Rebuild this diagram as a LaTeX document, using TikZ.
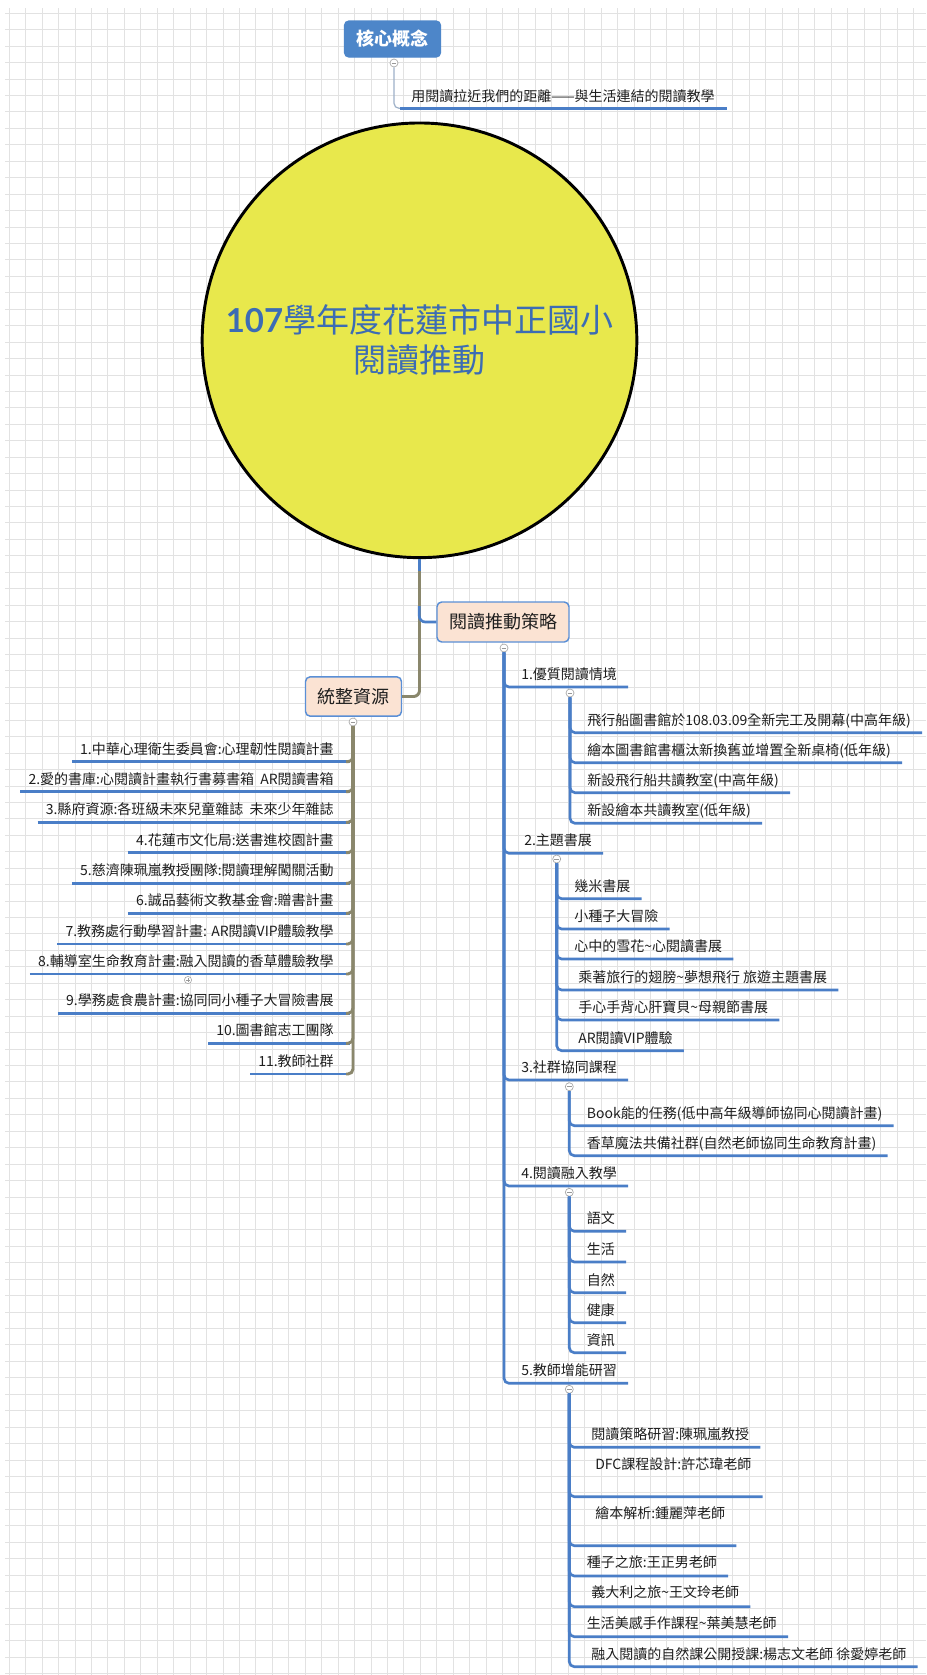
\documentclass[tikz,border=0pt]{standalone}
\usepackage{fontspec}
\setmainfont{Noto Sans CJK TC}
\newfontfamily\titlelat{Lato}
\usetikzlibrary{calc}
\definecolor{bluc}{HTML}{4A7EC7}
\definecolor{olvc}{HTML}{8A876C}
\definecolor{gridc}{HTML}{E2E2E2}
\definecolor{boxf}{HTML}{FBE3D3}
\definecolor{boxb}{HTML}{5A8FD6}
\definecolor{corec}{HTML}{4D86C9}
\definecolor{titlec}{HTML}{3C6CB4}
\definecolor{sun}{HTML}{E8E84C}
\definecolor{textc}{HTML}{1E1E1E}
\definecolor{thinc}{HTML}{9DB0C8}
\tikzset{
 blueline/.style={draw=bluc, line width=2pt},
 oliveline/.style={draw=olvc, line width=2.2pt},
 leaf/.style={inner sep=0pt, text=textc, font=\fontsize{10.5}{12}\selectfont},
 boxnode/.style={draw=boxb, fill=boxf, line width=1.1pt, rounded corners=3.5pt, inner xsep=9pt, inner ysep=0pt, minimum height=29.5pt, text=textc, font=\fontsize{13.5}{16}\selectfont},
 coll/.style={circle, draw=gray!70, fill=white, line width=0.5pt, minimum size=6pt, inner sep=0pt,
   path picture={\draw[gray!80, line width=0.5pt] ([xshift=-1.7pt]path picture bounding box.center) -- ([xshift=1.7pt]path picture bounding box.center);}},
 expd/.style={circle, draw=gray!70, fill=white, line width=0.45pt, minimum size=5.4pt, inner sep=0pt,
   path picture={\draw[gray!80, line width=0.45pt] ([xshift=-1.5pt]path picture bounding box.center) -- ([xshift=1.5pt]path picture bounding box.center) ([yshift=-1.5pt]path picture bounding box.center) -- ([yshift=1.5pt]path picture bounding box.center);}},
}
\newcommand\tld{\textasciitilde}
% right-hand leaf: name, branch node, x, text centre y, underline y, text
\newcommand\RLeaf[6]{%
 \node[leaf, anchor=base west] (#1) at (#3,#4+5.2) {#6};
 \pgfmathsetmacro\dyy{#5-#4-5.2}%
 \draw[blueline, rounded corners=3.75pt] (#2.south) |- ($(#1.base east)+(11,\dyy)$);
}
% left-hand leaf: name, text centre y, underline y, text
\newcommand\LLeaf[4]{%
 \node[leaf, anchor=base east] (#1) at (334,#2+5.2) {#4};
 \pgfmathsetmacro\dyy{#3-#2-5.2}%
 \draw[blueline] ($(#1.base west)+(-8,\dyy)$) -- ($(#1.base east)+(16,\dyy)$);
 \draw[oliveline, rounded corners=3.75pt] (rc.south) |- ($(#1.base east)+(12,\dyy)$);
}
\begin{document}
\begin{tikzpicture}[x=0.75pt,y=-0.75pt]
\useasboundingbox (0,0) rectangle (926,1675);
\fill[white] (0,0) rectangle (926,1675);
% grid
\foreach \i in {0,...,55} \draw[gridc, line width=0.7pt] ({9.3+\i*16.44},8) -- ({9.3+\i*16.44},1675);
\foreach \j in {0,...,101} \draw[gridc, line width=0.7pt] (5,{13.3+\j*16.44}) -- (926,{13.3+\j*16.44});

% central circle
\node[circle, draw=black, line width=2.2pt, fill=sun, minimum size=326pt, inner sep=0pt, text=titlec, align=center, font=\fontsize{24.75}{30}\selectfont] (circ) at (419.5,340.3) {{\titlelat\bfseries 107}學年度花蓮市中正國小\\閱讀推動};

% core concept
\node[boxnode, draw=corec, fill=corec, text=white, minimum height=27pt, font=\fontsize{13.5}{16}\selectfont\bfseries] (core) at (392.5,39) {核心概念};
\node[coll] (c0) at (394,63) {};
\node[leaf, anchor=base west] (kc) at (411,101.9) {用閱讀拉近我們的距離——與生活連結的閱讀教學};
\draw[thinc, line width=0.9pt, rounded corners=3.75pt] (c0.south) |- ($(kc.base west)+(-10,6.4)$);
\draw[blueline] ($(kc.base west)+(-11,6.4)$) -- ($(kc.base east)+(12,6.4)$);

% main boxes
\node[boxnode, minimum height=30pt] (strat) at (503,622) {閱讀推動策略};
\node[boxnode] (res) at (353.5,696.5) {統整資源};
\coordinate (jb) at (419.3,606);
\draw[oliveline, rounded corners=4.5pt] (circ.south) |- (res.east);
\draw[blueline] (circ.south) -- ($(circ.south)+(0,12)$);
\draw[blueline, rounded corners=4.5pt] (jb) |- (strat.west);

% collapse markers
\node[coll] (sc) at (504,648) {};
\node[coll] (rc) at (353,722) {};
\node[coll] (g1) at (570,693) {};
\node[coll] (g2) at (556.7,859) {};
\node[coll] (g3) at (569.3,1086.7) {};
\node[coll] (g4) at (569.3,1192.3) {};
\node[coll] (g5) at (569.3,1389.3) {};
\node[expd] (pl) at (188,980) {};

% left: resources
\LLeaf{l1}{749.0}{761.7}{1.中華心理衛生委員會:心理韌性閱讀計畫}
\LLeaf{l2}{779.0}{791.7}{2.愛的書庫:心閱讀計畫執行書募書箱\ \ AR閱讀書箱}
\LLeaf{l3}{809.6}{822.3}{3.縣府資源:各班級未來兒童雜誌\ \ 未來少年雜誌}
\LLeaf{l4}{840.0}{852.7}{4.花蓮市文化局:送書進校園計畫}
\LLeaf{l5}{870.6}{883.3}{5.慈濟陳珮嵐教授團隊:閱讀理解闖關活動}
\LLeaf{l6}{900.6}{913.3}{6.誠品藝術文教基金會:贈書計畫}
\LLeaf{l7}{931.3}{944}{7.教務處行動學習計畫: AR閱讀VIP體驗教學}
\LLeaf{l8}{961.3}{974}{8.輔導室生命教育計畫:融入閱讀的香草體驗教學}
\LLeaf{l9}{1000.6}{1013.3}{9.學務處食農計畫:協同同小種子大冒險書展}
\LLeaf{l10}{1030.6}{1043.3}{10.圖書館志工團隊}
\LLeaf{l11}{1061.3}{1074}{11.教師社群}

% right: strategy headings
\RLeaf{s5}{sc}{521}{1370.6}{1383.3}{5.教師增能研習}
\RLeaf{s4}{sc}{521}{1173.3}{1186}{4.閱讀融入教學}
\RLeaf{s3}{sc}{521}{1067.3}{1080}{3.社群協同課程}
\RLeaf{s2}{sc}{524}{840.6}{853.3}{2.主題書展}
\RLeaf{s1}{sc}{521}{674.3}{687}{1.優質閱讀情境}

% group 1
\RLeaf{a4}{g1}{587}{810.6}{823.3}{新設繪本共讀教室(低年級)}
\RLeaf{a3}{g1}{587}{780.0}{792.7}{新設飛行船共讀教室(中高年級)}
\RLeaf{a2}{g1}{587}{750.0}{762.7}{繪本圖書館書櫃汰新換舊並增置全新桌椅(低年級)}
\RLeaf{a1}{g1}{587}{720.0}{732.7}{飛行船圖書館於108.03.09全新完工及開幕(中高年級)}

% group 2
\RLeaf{b6}{g2}{578}{1038.0}{1050.7}{AR閱讀VIP體驗}
\RLeaf{b5}{g2}{578}{1007.3}{1020}{手心手背心肝寶貝\tld 母親節書展}
\RLeaf{b4}{g2}{578}{977.3}{990}{乘著旅行的翅膀\tld 夢想飛行 旅遊主題書展}
\RLeaf{b3}{g2}{574}{946.3}{959}{心中的雪花\tld 心閱讀書展}
\RLeaf{b2}{g2}{574}{916.3}{929}{小種子大冒險}
\RLeaf{b1}{g2}{574}{886.0}{898.7}{幾米書展}

% group 3
\RLeaf{c2}{g3}{586.7}{1143.0}{1155.7}{香草魔法共備社群(自然老師協同生命教育計畫)}
\RLeaf{c1}{g3}{586.7}{1113.0}{1125.7}{Book能的任務(低中高年級導師協同心閱讀計畫)}

% group 4
\RLeaf{d5}{g4}{586.7}{1340.0}{1352.7}{資訊}
\RLeaf{d4}{g4}{586.7}{1310.0}{1322.7}{健康}
\RLeaf{d3}{g4}{586.7}{1280.0}{1292.7}{自然}
\RLeaf{d2}{g4}{586.7}{1249.3}{1262}{生活}
\RLeaf{d1}{g4}{586.7}{1218.6}{1231.3}{語文}

% group 5
\RLeaf{e7}{g5}{591}{1654}{1666.7}{融入閱讀的自然課公開授課:楊志文老師 徐愛婷老師}
\RLeaf{e6}{g5}{586.7}{1623.3}{1636.7}{生活美感手作課程\tld 葉美慧老師}
\RLeaf{e5}{g5}{591}{1592.7}{1606.7}{義大利之旅\tld 王文玲老師}
\RLeaf{e4}{g5}{586.7}{1562.7}{1576}{種子之旅:王正男老師}
\RLeaf{e3}{g5}{595}{1513.3}{1545.7}{繪本解析:鍾麗萍老師}
\RLeaf{e2}{g5}{595}{1464.3}{1496.7}{DFC課程設計:許芯瑋老師}
\RLeaf{e1}{g5}{591}{1434}{1447.3}{閱讀策略研習:陳珮嵐教授}
\end{tikzpicture}
\end{document}
